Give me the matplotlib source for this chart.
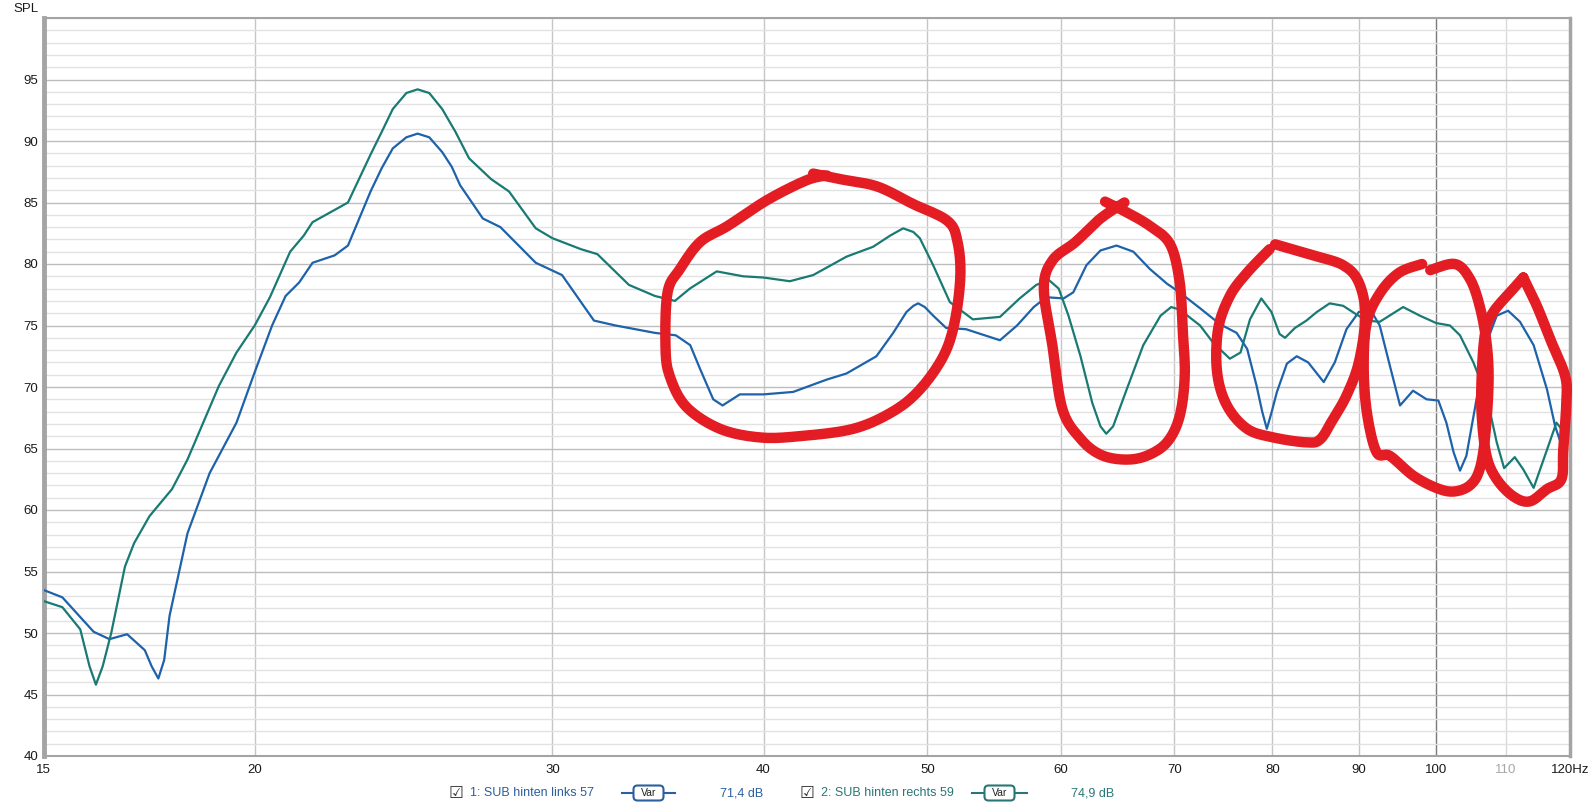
import matplotlib
matplotlib.use("Agg")
import numpy as np
import matplotlib.pyplot as plt
from matplotlib.ticker import MultipleLocator, NullLocator, FixedLocator, FixedFormatter
from matplotlib.lines import Line2D
from matplotlib.patches import FancyBboxPatch
from matplotlib.transforms import Affine2D

plt.rcParams["font.family"] = ["Liberation Sans", "DejaVu Sans"]

# curve 1: SUB hinten links 57 (blue)
freq_links = [15.0, 15.39, 16.06, 16.41, 16.81, 17.22, 17.38, 17.54, 17.68, 17.81, 18.25, 18.81,
              19.51, 20.0, 20.48, 20.86, 21.25, 21.64, 22.3, 22.71, 23.42, 23.78, 24.14, 24.59,
              24.97, 25.37, 25.82, 26.16, 26.46, 27.29, 27.95, 29.33, 30.4, 31.75, 32.7, 34.5,
              35.5, 36.2, 36.68, 37.35, 37.83, 38.73, 40.0, 41.65, 43.59, 44.79, 46.65, 47.73,
              48.6, 49.06, 49.38, 49.83, 50.4, 51.3, 52.7, 55.2, 56.5, 57.8, 58.8, 60.2, 61.0,
              62.1, 63.3, 64.7, 66.2, 67.7, 69.3, 70.5, 72.5, 74.5, 76.2, 77.3, 78.3, 78.9,
              79.4, 79.9, 80.5, 81.6, 82.7, 84.0, 85.8, 87.1, 88.5, 90.0, 91.6, 92.6, 93.9,
              95.2, 96.9, 98.7, 100.3, 101.4, 102.4, 103.3, 104.2, 105.4, 107.1, 108.6, 110.3,
              112.1, 114.2, 116.3, 117.6, 118.4]
spl_links = [53.5, 52.9, 50.1, 49.5, 49.9, 48.6, 47.3, 46.3, 47.8, 51.4, 58.1, 63.0,
             67.1, 71.2, 75.0, 77.4, 78.5, 80.1, 80.7, 81.5, 85.9, 87.8, 89.4, 90.3,
             90.6, 90.3, 89.1, 87.9, 86.4, 83.7, 83.0, 80.1, 79.1, 75.4, 75.0, 74.4,
             74.2, 73.4, 71.5, 69.0, 68.5, 69.4, 69.4, 69.6, 70.6, 71.1, 72.5, 74.4,
             76.1, 76.6, 76.8, 76.5, 75.8, 74.8, 74.7, 73.8, 75.0, 76.5, 77.3, 77.2, 77.7,
             79.9, 81.1, 81.5, 81.0, 79.6, 78.4, 77.7, 76.4, 75.1, 74.4, 73.1, 70.1, 68.0,
             66.6, 67.9, 69.6, 71.9, 72.5, 72.0, 70.4, 72.0, 74.7, 76.1, 76.1, 75.0, 71.7,
             68.5, 69.7, 69.0, 68.9, 67.1, 64.7, 63.2, 64.4, 68.2, 73.6, 75.8, 76.2,
             75.3, 73.4, 69.8, 66.8, 65.6]

# curve 2: SUB hinten rechts 59 (teal)
freq_rechts = [15.0, 15.39, 15.77, 15.97, 16.11, 16.26, 16.45, 16.76, 16.97, 17.33, 17.87, 18.25,
               19.05, 19.51, 20.0, 20.42, 20.99, 21.38, 21.64, 22.17, 22.71, 23.42, 23.78, 24.14,
               24.59, 24.97, 25.37, 25.82, 26.29, 26.78, 27.6, 28.28, 29.33, 30.0, 31.2, 31.9,
               33.3, 34.5, 35.45, 36.18, 37.53, 38.9, 40.0, 41.46, 42.8, 44.79, 46.44, 47.52,
               48.38, 49.06, 49.49, 50.4, 51.56, 53.2, 55.2, 56.7, 58.0, 59.0, 59.8, 60.6,
               61.6, 62.6, 63.3, 63.8, 64.4, 65.6, 67.1, 68.7, 69.7, 70.5, 72.5, 73.8, 75.5,
               76.6, 77.6, 78.8, 79.9, 80.8, 81.4, 82.5, 83.8, 85.0, 86.5, 88.1, 89.7, 91.0,
               92.6, 95.6, 97.8, 100.0, 101.9, 103.3, 105.2, 107.1, 108.6, 109.7, 111.3, 112.6,
               114.2, 116.3, 117.8, 118.6]
spl_rechts = [52.6, 52.1, 50.3, 47.3, 45.8, 47.3, 50.0, 55.4, 57.3, 59.5, 61.7, 64.1,
              70.1, 72.8, 75.0, 77.3, 81.0, 82.3, 83.4, 84.2, 85.0, 88.9, 90.75, 92.6,
              93.9, 94.2, 93.9, 92.6, 90.75, 88.6, 86.9, 85.9, 82.9, 82.1, 81.2, 80.8,
              78.3, 77.4, 77.0, 78.0, 79.4, 79.0, 78.9, 78.6, 79.1, 80.6, 81.4, 82.3,
              82.9, 82.6, 82.1, 79.9, 76.9, 75.5, 75.7, 77.2, 78.3, 78.7, 78.0, 75.8,
              72.5, 68.7, 66.8, 66.2, 66.8, 69.8, 73.4, 75.8, 76.5, 76.3, 75.0, 73.6, 72.3,
              72.8, 75.5, 77.2, 76.1, 74.3, 74.0, 74.8, 75.4, 76.1, 76.8, 76.6, 75.9, 75.4,
              75.3, 76.5, 75.8, 75.2, 75.0, 74.2, 72.0, 69.3, 65.5, 63.4, 64.3, 63.3,
              61.8, 64.9, 67.1, 66.6]

# hand drawn red marks (Hz, dB)
mark1_f = [42.8, 44.4, 46.7, 49.0, 51.4, 52.1, 52.3, 51.9, 51.1, 49.5, 47.7, 45.2, 42.0, 39.8,
           37.7, 36.0, 35.2, 35.0, 35.1, 35.7, 36.7, 38.1, 40.2, 42.4, 43.6]
mark1_db = [87.35, 86.9, 86.3, 84.9, 83.5, 81.8, 79.0, 75.3, 72.5, 69.8, 68.0, 66.6, 66.0, 65.9,
            66.6, 68.4, 70.9, 73.3, 77.7, 79.6, 81.8, 83.1, 85.2, 86.8, 87.2]
mark2_f = [63.7, 65.4, 67.7, 69.6, 70.5, 70.8, 71.0, 70.5, 69.3, 67.4, 65.4, 63.3, 61.6, 60.1,
           59.3, 58.6, 59.3, 61.2, 63.3, 65.4]
mark2_db = [85.07, 84.3, 83.1, 81.6, 78.6, 74.7, 70.9, 67.6, 65.5, 64.4, 64.1, 64.5, 65.8, 68.2,
            73.3, 78.0, 80.3, 81.8, 83.7, 85.0]
mark3_f = [80.3, 84.6, 88.1, 90.0, 90.8, 90.0, 88.5, 86.9, 85.4, 83.8, 80.1, 77.3, 75.2, 74.2,
           74.3, 75.5, 77.3, 79.7]
mark3_db = [81.6, 80.7, 79.9, 78.5, 75.8, 72.0, 69.3, 67.4, 65.75, 65.5, 65.9, 66.6, 68.5, 71.2,
            74.7, 77.4, 79.3, 81.2]
mark4_f = [98.1, 95.1, 92.7, 91.0, 90.6, 91.0, 92.2, 93.9, 96.9, 100.0, 102.4, 104.7, 106.1,
           106.9, 107.4, 107.1, 106.1, 104.7, 102.6, 99.2]
mark4_db = [80.0, 79.3, 77.7, 75.3, 71.7, 67.9, 64.7, 64.4, 62.8, 61.8, 61.5, 62.0, 63.3,
            66.0, 70.4, 73.6, 76.6, 78.8, 80.0, 79.5]
mark5_f = [112.6, 114.7, 116.8, 119.2, 119.4, 118.9, 118.6, 116.3, 113.6, 111.1, 108.6, 107.1,
           106.4, 106.4, 106.9, 108.1, 111.1, 112.6]
mark5_db = [78.9, 76.6, 73.9, 70.9, 68.7, 64.9, 62.5, 61.7, 60.7, 61.1, 62.5, 64.4,
            67.7, 70.9, 74.4, 76.1, 78.0, 78.9]

x_ticks = [15, 20, 30, 40, 50, 60, 70, 80, 90, 100, 110, 120]
x_labels = ["15", "20", "30", "40", "50", "60", "70", "80", "90", "100", "110", "120Hz"]
y_ticks = [40, 45, 50, 55, 60, 65, 70, 75, 80, 85, 90, 95]

blue = "#1d62aa"
teal = "#197a74"
red = "#e31d23"


def stroke(fs, dbs, n=10):
    # soft pen stroke through the hand drawn points (log-frequency space)
    p = np.column_stack([np.log10(fs), dbs])
    p = np.vstack([p[0], p, p[-1]])
    out = []
    for i in range(1, len(p) - 2):
        p0, p1, p2, p3 = p[i - 1], p[i], p[i + 1], p[i + 2]
        for t in np.linspace(0, 1, n, endpoint=False):
            out.append(0.5 * ((2 * p1) + (-p0 + p2) * t + (2 * p0 - 5 * p1 + 4 * p2 - p3) * t ** 2
                              + (-p0 + 3 * p1 - 3 * p2 + p3) * t ** 3))
    out.append(p[-2])
    out = np.array(out)
    return 10 ** out[:, 0], out[:, 1]


W, H = 1592.0, 808.0
fig = plt.figure(figsize=(W / 100, H / 100), dpi=100)
ax = fig.add_axes([43.5 / W, 1 - 756 / H, (1570 - 43.5) / W, (756 - 18) / H])
# pixel coordinates (origin bottom-left) for the legend row
px = Affine2D().scale(1 / W, 1 / H) + fig.transFigure

ax.set_xscale("log")
ax.set_xlim(15, 120)
ax.set_ylim(40, 100)

# grid
ax.yaxis.set_major_locator(FixedLocator(y_ticks))
ax.yaxis.set_minor_locator(MultipleLocator(1))
ax.grid(which="minor", axis="y", color="#e2e2e2", lw=1.0, zorder=0)
ax.grid(which="major", axis="y", color="#bdbdbd", lw=1.0, zorder=0)
for f in x_ticks[1:-1]:
    c = "#7a7a7a" if f == 100 else ("#dadada" if f == 110 else "#c6c6c6")
    ax.axvline(f, color=c, lw=1.0, zorder=0.5)

ax.xaxis.set_major_locator(FixedLocator(x_ticks))
ax.xaxis.set_major_formatter(FixedFormatter(x_labels))
ax.xaxis.set_minor_locator(NullLocator())
ax.tick_params(axis="both", which="both", length=0, labelsize=9.5, colors="#1a1a1a")
ax.tick_params(axis="x", pad=6)
ax.tick_params(axis="y", pad=4)
ax.get_xticklabels()[10].set_color("#a8a8a8")

for s in ax.spines.values():
    s.set_color("#a4a4a4")
    s.set_linewidth(1.5)
ax.spines["left"].set_linewidth(3.5)
ax.spines["right"].set_linewidth(2.5)

# curves
ax.plot(freq_links, spl_links, color=blue, lw=1.6, zorder=3, solid_joinstyle="round")
ax.plot(freq_rechts, spl_rechts, color=teal, lw=1.6, zorder=3, solid_joinstyle="round")

# red hand-drawn marks
for mf, md in [(mark1_f, mark1_db), (mark2_f, mark2_db), (mark3_f, mark3_db),
               (mark4_f, mark4_db), (mark5_f, mark5_db)]:
    sf, sd = stroke(mf, md)
    ax.plot(sf, sd, color=red, lw=7.5, solid_capstyle="round", solid_joinstyle="round",
            zorder=5, clip_on=False)

fig.text(39 / W, 1 - 9 / H, "SPL", ha="right", va="center", fontsize=9.5, color="#1a1a1a")


# legend row
def legend_item(x_box, x_txt, label, x_var0, x_var1, x_val, value, color):
    yp = H - 793
    yy = yp / H
    fig.text(x_box / W, yy, "\u2611", ha="center", va="center", fontsize=12,
             color="#333333", family="DejaVu Sans")
    fig.text(x_txt / W, yy, label, ha="left", va="center", fontsize=9, color=color)
    fig.add_artist(Line2D([x_var0, x_var1], [yp, yp], color=color, lw=1.5,
                          transform=px, zorder=1))
    bw, bh = 30.0, 15.0
    xc = (x_var0 + x_var1) / 2
    fig.add_artist(FancyBboxPatch((xc - bw / 2, yp - bh / 2), bw, bh,
                                  boxstyle="round,pad=0,rounding_size=4",
                                  fc="white", ec=color, lw=1.5, transform=px, zorder=2))
    fig.text(xc / W, yy, "Var", ha="center", va="center", fontsize=7.5, color="#222222",
             zorder=3)
    fig.text(x_val / W, yy, value, ha="left", va="center", fontsize=9, color=color)


legend_item(456, 470, "1: SUB hinten links 57", 622, 675, 720, "71,4 dB", "#2b5f9e")
legend_item(807, 821, "2: SUB hinten rechts 59", 972, 1027, 1071, "74,9 dB", "#2a7676")

fig.savefig("out.png", dpi=100, facecolor="white")
